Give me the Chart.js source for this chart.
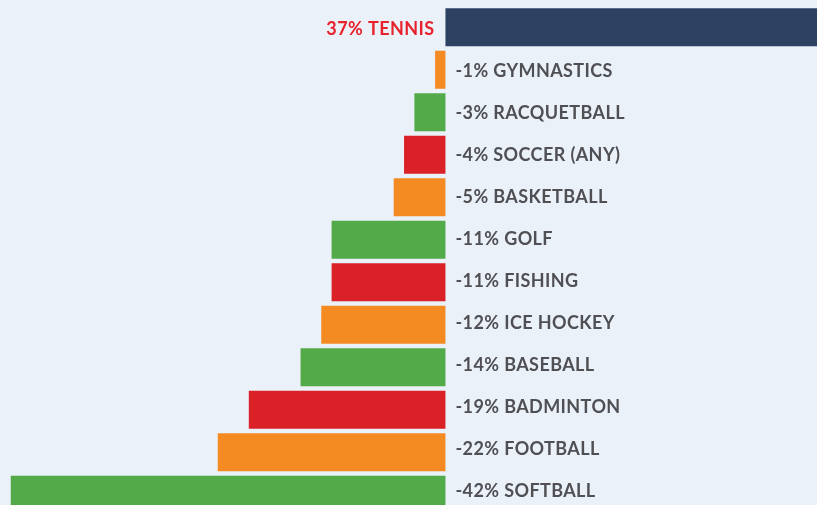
<!DOCTYPE html>
<html>
<head>
<meta charset="utf-8">
<script src="https://cdn.jsdelivr.net/npm/chart.js@4/dist/chart.umd.min.js"></script>
<style>
  html, body { margin: 0; padding: 0; background: #eaf1f9; overflow: hidden; }
  #wrap { width: 817px; height: 505px; overflow: hidden; }
  canvas { display: block; }
</style>
</head>
<body>
<div id="wrap"><canvas id="sportsChart" width="817" height="516"></canvas></div>
<script>
/* ── Data ── */
const sports = ['TENNIS', 'GYMNASTICS', 'RACQUETBALL', 'SOCCER (ANY)', 'BASKETBALL', 'GOLF',
                'FISHING', 'ICE HOCKEY', 'BASEBALL', 'BADMINTON', 'FOOTBALL', 'SOFTBALL'];
const changes = [37, -1, -3, -4, -5, -11, -11, -12, -14, -19, -22, -42];
const barColors = ['#2d4263', '#f48a22', '#52ab48', '#d92127', '#f48a22', '#52ab48',
                   '#d92127', '#f48a22', '#52ab48', '#d92127', '#f48a22', '#52ab48'];

const FONT = "bold 18px Lato, 'Open Sans', sans-serif";

/* ── Labels next to the zero line ── */
const barLabels = {
  id: 'barLabels',
  afterDatasetsDraw(chart) {
    const ctx = chart.ctx;
    const meta = chart.getDatasetMeta(0);
    ctx.save();
    ctx.font = FONT;
    ctx.letterSpacing = '0.4px';
    ctx.textBaseline = 'middle';
    meta.data.forEach((bar, i) => {
      const v = changes[i];
      const text = v + '% ' + sports[i];
      // text rows sit on a slightly tighter pitch than the bars
      const dy = 1.8 - 0.5 * i;
      if (v >= 0) {
        ctx.fillStyle = '#e8222c';
        ctx.textAlign = 'right';
        ctx.fillText(text, bar.base - 11, bar.y + dy);
      } else {
        ctx.fillStyle = '#4f4f54';
        ctx.textAlign = 'left';
        ctx.fillText(text, bar.base + 10, bar.y + dy);
      }
    });
    ctx.restore();
  }
};

new Chart(document.getElementById('sportsChart'), {
  type: 'bar',
  data: {
    labels: sports,
    datasets: [{
      data: changes,
      backgroundColor: barColors,
      borderWidth: 0,
      categoryPercentage: 1,
      barPercentage: 0.895
    }]
  },
  options: {
    responsive: false,
    animation: false,
    devicePixelRatio: 1,
    indexAxis: 'y',
    layout: { padding: { top: 6, bottom: 0, left: 0, right: 0 } },
    scales: {
      x: { display: false, min: -43.04, max: 35.9 },
      y: { display: false }
    },
    plugins: {
      legend: { display: false },
      tooltip: { enabled: false }
    }
  },
  plugins: [barLabels]
});
</script>
</body>
</html>
